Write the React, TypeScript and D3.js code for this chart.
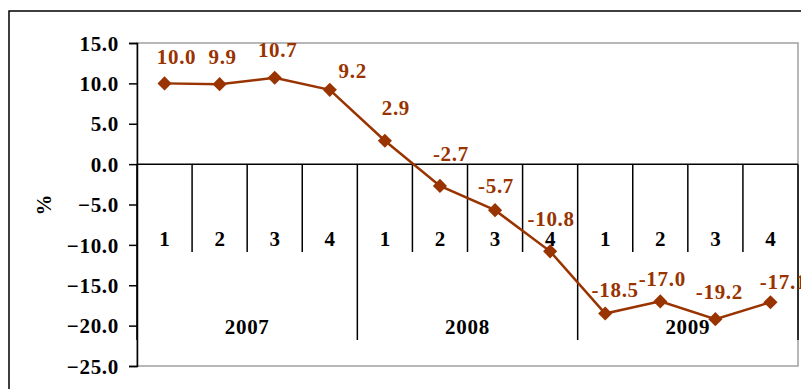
import * as d3 from "d3";
import { useEffect, useRef } from "react";

// Data
const quarters = ["1", "2", "3", "4", "1", "2", "3", "4", "1", "2", "3", "4"];
const years = ["2007", "2008", "2009"];
const values = [10.0, 9.9, 10.7, 9.2, 2.9, -2.7, -5.7, -10.8, -18.5, -17.0, -19.2, -17.1];
const yTicks = [15, 10, 5, 0, -5, -10, -15, -20, -25];

// hand placed label nudges (Excel style manual positions)
const labelDx = [12, 3, 3, 23, 11, 11, 1, 1, 10, 2, 4, 13];
const labelDy = [-19, -20, -21, -12, -26, -25, -17, -25, -17, -15, -20, -13];

export default function App() {
  const svgRef = useRef<SVGSVGElement | null>(null);

  useEffect(() => {
    document.body.style.margin = "0";
    if (!svgRef.current) return;
    const svg = d3.select(svgRef.current);
    svg.selectAll("*").remove();

    const width = 801;
    const height = 389;
    const left = 137;
    const right = 798;
    const top = 43;
    const bottom = 366;
    const brown = "#993300";
    const font = "'Liberation Serif', 'Times New Roman', serif";
    const fontSize = "21px";
    const spacing = "0.7px";

    svg.attr("width", width).attr("height", height);

    // outer frame (runs off the picture right and bottom)
    svg
      .append("rect")
      .attr("x", 9)
      .attr("y", 11)
      .attr("width", 900)
      .attr("height", 500)
      .attr("fill", "white")
      .attr("stroke", "#000")
      .attr("stroke-width", 1.5);

    const y = d3.scaleLinear().domain([-25, 15]).range([bottom, top]);
    const x = d3
      .scaleBand<number>()
      .domain(d3.range(values.length))
      .range([left, right])
      .padding(0);
    const cx = (i: number) => x(i)! + x.bandwidth() / 2;

    // plot area border
    svg
      .append("rect")
      .attr("x", left)
      .attr("y", top)
      .attr("width", right - left)
      .attr("height", bottom - top)
      .attr("fill", "none")
      .attr("stroke", "#a0a0a0")
      .attr("stroke-width", 1.5);

    // y axis
    const yAxis = svg
      .append("g")
      .attr("transform", `translate(${left},0)`)
      .call(
        d3
          .axisLeft(y)
          .tickValues(yTicks)
          .tickSize(8)
          .tickPadding(10)
          .tickFormat(d3.format(".1f")),
      );
    yAxis.select(".domain").attr("stroke", "#000").attr("stroke-width", 1.5);
    yAxis.selectAll(".tick line").attr("stroke", "#000").attr("stroke-width", 1.5);
    yAxis
      .selectAll(".tick text")
      .attr("fill", "#000")
      .attr("dy", "0.34em")
      .style("font-family", font)
      .style("font-weight", "bold")
      .style("font-size", fontSize)
      .style("letter-spacing", spacing);

    // "%" axis title
    svg
      .append("text")
      .attr("transform", "translate(51,205) rotate(-90)")
      .attr("text-anchor", "middle")
      .style("font-family", font)
      .style("font-weight", "bold")
      .style("font-size", fontSize)
      .text("%");

    // category axis at zero
    const y0 = y(0);
    svg
      .append("line")
      .attr("x1", left)
      .attr("x2", right)
      .attr("y1", y0)
      .attr("y2", y0)
      .attr("stroke", "#000")
      .attr("stroke-width", 1.5);

    // dividers: quarter ones short, year ones long
    const boundaries = d3.range(values.length + 1);
    svg
      .append("g")
      .selectAll("line")
      .data(boundaries)
      .join("line")
      .attr("x1", (d) => left + d * x.bandwidth())
      .attr("x2", (d) => left + d * x.bandwidth())
      .attr("y1", y0)
      .attr("y2", (d) => (d % 4 === 0 ? 340 : 252))
      .attr("stroke", "#000")
      .attr("stroke-width", 1.5);

    // quarter labels
    svg
      .append("g")
      .selectAll("text")
      .data(quarters)
      .join("text")
      .attr("x", (_, i) => cx(i))
      .attr("y", 246)
      .attr("text-anchor", "middle")
      .style("font-family", font)
      .style("font-weight", "bold")
      .style("font-size", fontSize)
      .text((d) => d);

    // year labels
    svg
      .append("g")
      .selectAll("text")
      .data(years)
      .join("text")
      .attr("x", (_, i) => left + (i * 4 + 2) * x.bandwidth())
      .attr("y", 334)
      .attr("text-anchor", "middle")
      .style("font-family", font)
      .style("font-weight", "bold")
      .style("font-size", fontSize)
      .style("letter-spacing", spacing)
      .text((d) => d);

    // series line
    const line = d3
      .line<number>()
      .x((_, i) => cx(i))
      .y((d) => y(d));
    svg
      .append("path")
      .datum(values)
      .attr("d", line)
      .attr("fill", "none")
      .attr("stroke", brown)
      .attr("stroke-width", 2.5);

    // diamond markers
    svg
      .append("g")
      .selectAll("path")
      .data(values)
      .join("path")
      .attr("d", d3.symbol(d3.symbolSquare, 100)())
      .attr("transform", (d, i) => `translate(${cx(i)},${y(d)}) rotate(45)`)
      .attr("fill", brown);

    // data labels
    svg
      .append("g")
      .selectAll("text")
      .data(values)
      .join("text")
      .attr("x", (_, i) => cx(i) + labelDx[i])
      .attr("y", (d, i) => y(d) + labelDy[i])
      .attr("text-anchor", "middle")
      .attr("fill", brown)
      .style("font-family", font)
      .style("font-weight", "bold")
      .style("font-size", fontSize)
      .style("letter-spacing", spacing)
      .text((d) => d.toFixed(1));
  }, []);

  return <svg ref={svgRef} style={{ display: "block" }}></svg>;
}
